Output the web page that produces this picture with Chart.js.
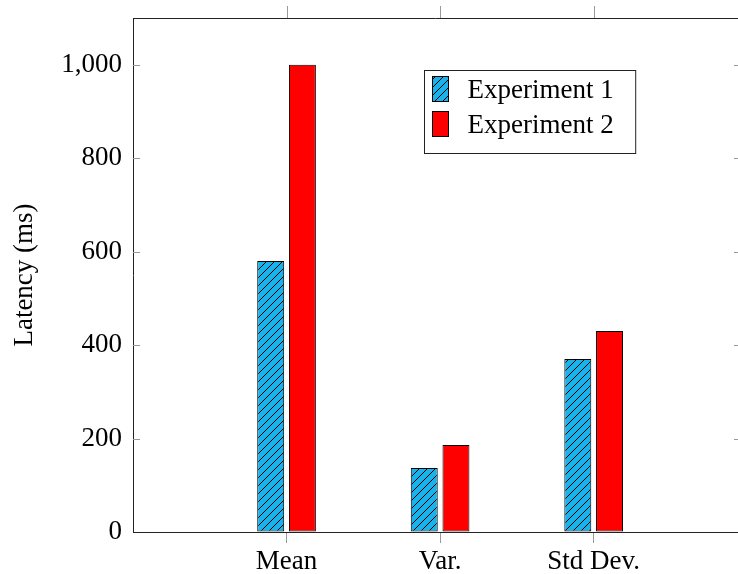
<!DOCTYPE html>
<html>
<head>
<meta charset="utf-8">
<script src="https://cdn.jsdelivr.net/npm/chart.js@4/dist/chart.umd.min.js"></script>
<style>
  html, body { margin: 0; padding: 0; background: #fff; }
  #wrap { width: 738px; height: 574px; }
</style>
</head>
<body>
<div id="wrap"><canvas id="latencyChart" width="738" height="574"></canvas></div>
<script>
// Data
const categories = ['Mean', 'Var.', 'Std Dev.'];
const seriesNames = ['Experiment 1', 'Experiment 2'];
const experiment1 = [580, 137, 370];
const experiment2 = [1000, 186, 430];
const yTickValues = [0, 200, 400, 600, 800, 1000];

// Hatched blue fill (north east lines)
function makeHatch() {
    const c = document.createElement('canvas');
    c.width = 8;
    c.height = 8;
    const g = c.getContext('2d');
    g.fillStyle = '#1ab2ea';
    g.fillRect(0, 0, 8, 8);
    g.strokeStyle = '#000';
    g.lineWidth = 1;
    g.beginPath();
    g.moveTo(-1, 9); g.lineTo(9, -1);
    g.moveTo(-5, 5); g.lineTo(5, -5);
    g.moveTo(3, 13); g.lineTo(13, 3);
    g.stroke();
    return g.createPattern(c, 'repeat');
}

// Frame: top border, top ticks, inner y ticks, legend box
const framePlugin = {
    id: 'frame',
    afterDraw(chart) {
        const { ctx, chartArea: a, scales: { x, y } } = chart;
        ctx.save();
        ctx.lineWidth = 1;
        ctx.strokeStyle = '#222';
        ctx.beginPath();
        ctx.moveTo(a.left, a.top + 0.5);
        ctx.lineTo(a.right, a.top + 0.5);
        ctx.stroke();

        ctx.strokeStyle = '#999';
        ctx.beginPath();
        x.ticks.forEach(t => {
            const px = Math.round(x.getPixelForValue(t.value)) + 0.5;
            ctx.moveTo(px, a.top);
            ctx.lineTo(px, a.top - 12);
        });
        y.ticks.forEach(t => {
            const py = Math.round(y.getPixelForValue(t.value)) + 0.5;
            if (t.value === 0) return;
            ctx.moveTo(a.left, py);
            ctx.lineTo(a.left + 7, py);
            ctx.moveTo(a.right - 4, py);
            ctx.lineTo(a.right, py);
        });
        ctx.stroke();

        // legend
        const ds = chart.data.datasets;
        ctx.font = '27px "Liberation Serif"';
        const textW = Math.max(...ds.map(d => ctx.measureText(d.label).width));
        const bx = a.left + 291.5, by = a.top + 52.5;
        const bw = 43 + textW + 22, bh = 83;
        ctx.fillStyle = '#fff';
        ctx.fillRect(bx, by, bw, bh);
        ctx.strokeStyle = '#222';
        ctx.strokeRect(bx, by, bw, bh);
        ds.forEach((d, i) => {
            const sy = by + 6 + i * 35;
            ctx.fillStyle = d.backgroundColor;
            ctx.fillRect(bx + 8, sy, 16, 25);
            ctx.strokeStyle = '#000';
            ctx.strokeRect(bx + 8, sy, 16, 25);
            ctx.fillStyle = '#000';
            ctx.textBaseline = 'middle';
            ctx.textAlign = 'left';
            ctx.fillText(d.label, bx + 43, sy + 14);
        });
        ctx.restore();
    }
};

Chart.defaults.font.family = '"Liberation Serif", serif';
Chart.defaults.font.size = 27;
Chart.defaults.color = '#000';

const ctx = document.getElementById('latencyChart');
new Chart(ctx, {
    type: 'bar',
    data: {
        datasets: [{
            label: seriesNames[0],
            data: experiment1.map((v, i) => ({ x: i, y: v })),
            backgroundColor: makeHatch(),
            borderColor: '#000',
            borderWidth: 1,
            borderSkipped: false
        }, {
            label: seriesNames[1],
            data: experiment2.map((v, i) => ({ x: i, y: v })),
            backgroundColor: '#ff0000',
            borderColor: '#000',
            borderWidth: 1,
            borderSkipped: false
        }]
    },
    options: {
        responsive: false,
        animation: false,
        categoryPercentage: 0.413,
        barPercentage: 0.85,
        layout: {
            padding: { top: 18, left: 0, right: 0, bottom: 0 }
        },
        plugins: {
            legend: { display: false },
            tooltip: { enabled: false }
        },
        scales: {
            x: {
                type: 'linear',
                min: -1,
                max: 2.94,
                offset: false,
                afterBuildTicks: scale => {
                    scale.ticks = categories.map((c, i) => ({ value: i }));
                },
                afterFit: scale => {
                    scale.height = 42;
                    scale.paddingLeft = 0;
                    scale.paddingRight = 0;
                },
                ticks: {
                    autoSkip: false,
                    maxRotation: 0,
                    padding: 3,
                    callback: v => categories[v]
                },
                grid: {
                    offset: false,
                    drawOnChartArea: false,
                    drawTicks: true,
                    tickLength: 11,
                    color: '#999'
                },
                border: { display: true, color: '#222', width: 1 }
            },
            y: {
                min: 0,
                max: 1100,
                afterBuildTicks: scale => {
                    scale.ticks = yTickValues.map(v => ({ value: v }));
                },
                afterFit: scale => {
                    scale.width = 133;
                    scale.paddingTop = 0;
                    scale.paddingBottom = 0;
                },
                ticks: {
                    padding: 11,
                    callback: v => v.toLocaleString('en-US')
                },
                title: {
                    display: true,
                    text: 'Latency (ms)',
                    padding: { top: 9, bottom: 0 }
                },
                grid: {
                    drawOnChartArea: false,
                    drawTicks: false
                },
                border: { display: true, color: '#222', width: 1 }
            }
        }
    },
    plugins: [framePlugin]
});
</script>
</body>
</html>
